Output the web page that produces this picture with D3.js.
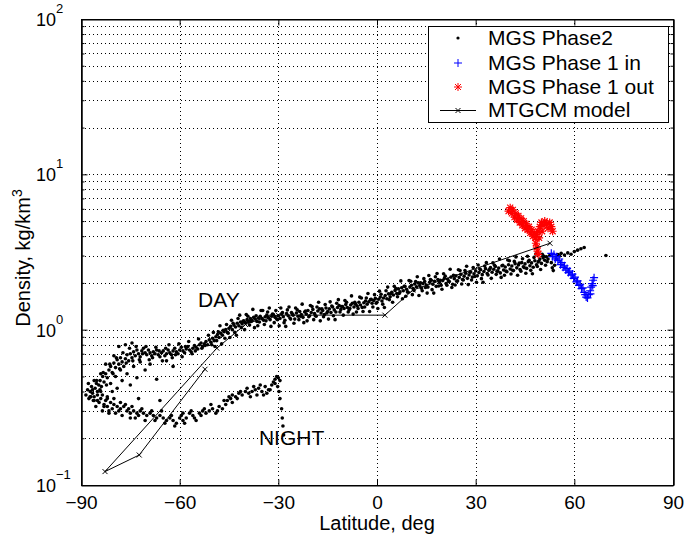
<!DOCTYPE html>
<html>
<head>
<meta charset="utf-8">
<script src="https://cdn.jsdelivr.net/npm/d3@7"></script>
<style>
  body { margin: 0; background: #fff; }
  text { font-family: "Liberation Sans", Arial, sans-serif; fill: #000; }
</style>
</head>
<body>
<svg id="chart" width="684" height="537"></svg>
<script>
/*********************** DATA ********************************/
let latTicks = [-90, -60, -30, 0, 30, 60, 90];
let latGrid = [-60, -30, 0, 30, 60];
let densityDecades = [0.1, 1, 10, 100];
let decadeExponents = ['\u22121', '0', '1', '2'];

// MGS Phase2 [latitude, density] - day side
let phase2Day = [
  [-88.5,0.38],[-88,0.41],[-87.6,0.36],[-87.2,0.40],[-86.8,0.43],[-86.5,0.39],[-86,0.37],[-85.7,0.42],
  [-85.3,0.45],[-85,0.40],[-84.6,0.44],[-84.2,0.47],[-83.8,0.43],[-83.4,0.50],[-83,0.46],[-82.5,0.52],
  [-82,0.49],[-81.5,0.55],[-81,0.58],[-80.5,0.53],[-80,0.61],[-79.5,0.57],[-79,0.64],[-78.5,0.60],
  [-78,0.66],[-77.5,0.62],[-77,0.58],[-76.5,0.65],[-76,0.69],[-75.5,0.63],[-75,0.70],[-74.5,0.66],
  [-74,0.72],[-73.5,0.68],[-73,0.74],[-72.5,0.70],[-72,0.67],[-71.5,0.73],[-71,0.76],[-70.5,0.71],
  [-70,0.69],[-69.5,0.74],[-69,0.71],[-68.5,0.68],[-68,0.72],[-67.5,0.70],[-67,0.74],[-66.5,0.69],
  [-66,0.67],[-65.5,0.71],[-65,0.73],[-64.5,0.68],[-64,0.70],[-63.5,0.74],[-63,0.71],[-62.5,0.69],
  [-62,0.73],[-61.5,0.76],[-61,0.72],[-60.5,0.70],[-60,0.74],[-59.5,0.77],[-59,0.73],[-58.5,0.71],
  [-58,0.75],[-57.5,0.78],[-57,0.74],[-56.5,0.72],[-56,0.76],[-55.5,0.79],[-55,0.77],[-54.5,0.75],
  [-54,0.80],[-53.5,0.82],[-53,0.78],[-52.5,0.81],[-52,0.84],[-51.5,0.80],[-51,0.86],[-50.5,0.83],
  [-50,0.88],[-49.5,0.85],[-49,0.90],[-48.5,0.93],[-48,0.89],[-47.5,0.95],[-47,0.92],[-46.5,0.97],
  [-46,1.00],[-45.5,0.96],[-45,1.02],[-44.5,1.05],[-44,1.00],[-43.5,1.07],[-43,1.04],[-42.5,1.10],
  [-42,1.06],[-41.5,1.12],[-41,1.09],[-40.5,1.14],[-40,1.11],[-39.5,1.16],[-39,1.13],[-38.5,1.18],
  [-38,1.15],[-37.5,1.20],[-37,1.17],[-36.5,1.13],[-36,1.19],[-35.5,1.22],[-35,1.18],[-34.5,1.15],
  [-34,1.21],[-33.5,1.24],[-33,1.19],[-32.5,1.16],[-32,1.22],[-31.5,1.25],[-31,1.20],[-30.5,1.17],
  [-30,1.23],[-29.5,1.18],[-29,1.26],[-28.5,1.21],[-28,1.15],[-27.5,1.27],[-27,1.23],[-26.5,1.19],
  [-26,1.29],[-25.5,1.24],[-25,1.17],[-24.5,1.28],[-24,1.22],[-23.5,1.31],[-23,1.25],[-22.5,1.20],
  [-22,1.30],[-21.5,1.26],[-21,1.33],[-20.5,1.23],[-20,1.29],[-19.5,1.35],[-19,1.27],[-18.5,1.22],
  [-18,1.32],[-17.5,1.36],[-17,1.28],[-16.5,1.33],[-16,1.25],[-15.5,1.38],[-15,1.31],[-14.5,1.36],
  [-14,1.29],[-13.5,1.40],[-13,1.34],[-12.5,1.30],[-12,1.39],[-11.5,1.43],[-11,1.35],[-10.5,1.41],
  [-10,1.37],[-9.5,1.45],[-9,1.39],[-8.5,1.34],[-8,1.44],[-7.5,1.48],[-7,1.40],[-6.5,1.46],
  [-6,1.42],[-5.5,1.50],[-5,1.44],[-4.5,1.39],[-4,1.49],[-3.5,1.53],[-3,1.46],[-2.5,1.51],
  [-2,1.56],[-1.5,1.48],[-1,1.54],[-0.5,1.59],[0,1.50],[0.5,1.57],[1,1.62],[1.5,1.53],
  [2,1.60],[2.5,1.66],[3,1.58],[3.5,1.70],[4,1.63],[4.5,1.74],[5,1.67],[5.5,1.79],
  [6,1.71],[6.5,1.83],[7,1.75],[7.5,1.86],[8,1.78],[8.5,1.90],[9,1.82],[9.5,1.74],
  [10,1.88],[10.5,1.93],[11,1.84],[11.5,1.97],[12,1.89],[12.5,2.00],[13,1.92],[13.5,1.85],
  [14,1.98],[14.5,2.04],[15,1.94],[15.5,1.88],[16,2.02],[16.5,2.08],[17,1.96],[17.5,2.05],
  [18,1.90],[18.5,2.10],[19,2.01],[19.5,1.93],[20,2.07],[20.5,2.14],[21,1.98],[21.5,2.11],
  [22,2.04],[22.5,2.18],[23,1.96],[23.5,2.13],[24,2.22],[24.5,2.06],[25,2.17],[25.5,2.27],
  [26,2.10],[26.5,2.21],[27,2.31],[27.5,2.14],[28,2.25],[28.5,2.35],[29,2.18],[29.5,2.29],
  [30,2.39],[30.5,2.22],[31,2.33],[31.5,2.43],[32,2.26],[32.5,2.37],[33,2.47],[33.5,2.30],
  [34,2.41],[34.5,2.51],[35,2.34],[35.5,2.45],[36,2.55],[36.5,2.38],[37,2.49],[37.5,2.32],
  [38,2.58],[38.5,2.42],[39,2.53],[39.5,2.36],[40,2.62],[40.5,2.46],[41,2.57],[41.5,2.40],
  [42,2.66],[42.5,2.50],[43,2.61],[43.5,2.44],[44,2.70],[44.5,2.54],[45,2.65],[45.5,2.48],
  [46,2.74],[46.5,2.58],[47,2.69],[47.5,2.52],[48,2.78],[48.5,2.62],[49,2.73],[49.5,2.85],
  [50,2.67],[50.5,2.90],[51,2.80],[51.5,2.95],[52,2.85],[52.5,3.00],[53,2.70],[53.3,2.50],
  [53.6,2.40],[54,2.60],[54.5,2.85],[55,3.05],[55.5,2.98],[56,3.10],[57,3.02],[58,3.12],
  [59,3.06],[60,3.18],[61,3.25],[62,3.32],[63,3.38],[69.6,3.00]
];

// MGS Phase2 - day side, scatter around the band
let phase2DayEdge = [
  [-87.75,0.45],[-87.25,0.37],[-86.25,0.35],[-85.25,0.47],[-84.25,0.41],[-83.25,0.53],[-82.25,0.44],
  [-81.25,0.60],[-80.25,0.52],[-79.25,0.66],[-78.25,0.56],[-77.25,0.71],[-76.25,0.61],[-75.25,0.76],
  [-74.25,0.63],[-73.25,0.78],[-72.25,0.64],[-71.25,0.70],[-70.25,0.78],[-69.25,0.64],[-68.25,0.66],
  [-67.25,0.77],[-66.25,0.73],[-65.25,0.63],[-64.25,0.76],[-63.25,0.80],[-62.25,0.66],[-61.25,0.69],
  [-60.25,0.81],[-59.25,0.67],[-58.25,0.78],[-57.25,0.84],[-56.25,0.70],[-55.25,0.73],[-54.25,0.87],
  [-53.25,0.76],[-52.25,0.79],[-51.25,0.92],[-50.25,0.80],
  [-49.75,0.96],[-49.25,0.78],[-48.75,0.85],[-48.25,0.97],[-47.75,1.06],[-47.25,0.81],[-46.75,0.99],
  [-46.25,0.88],[-45.75,1.08],[-45.25,0.95],[-44.75,0.89],[-44.25,1.15],[-43.75,1.10],[-43.25,0.96],
  [-42.75,0.92],[-42.25,1.18],[-41.75,1.24],[-41.25,1.03],[-40.75,1.13],[-40.25,1.00],[-39.75,1.25],
  [-39.25,1.22],[-38.75,1.07],[-38.25,1.13],[-37.75,1.35],[-37.25,1.03],[-36.75,1.23],[-36.25,1.06],
  [-35.75,1.12],[-35.25,1.33],[-34.75,1.33],[-34.25,1.08],[-33.75,1.14],[-33.25,1.30],[-32.75,1.38],
  [-32.25,1.05],[-31.75,1.26],[-31.25,1.11],[-30.75,1.33],[-30.25,1.16],[-29.75,1.06],[-29.25,1.38],
  [-28.75,1.29],[-28.25,1.11],[-27.75,1.05],[-27.25,1.34],[-26.75,1.40],[-26.25,1.17],[-25.75,1.26],
  [-25.25,1.10],[-24.75,1.38],[-24.25,1.34],[-23.75,1.16],[-23.25,1.22],[-22.75,1.46],[-22.25,1.11],
  [-21.75,1.32],[-21.25,1.14],[-20.75,1.21],[-20.25,1.43],[-19.75,1.41],[-19.25,1.16],[-18.75,1.23],
  [-18.25,1.40],[-17.75,1.50],[-17.25,1.14],[-16.75,1.36],[-16.25,1.21],[-15.75,1.45],[-15.25,1.28],
  [-14.75,1.17],[-14.25,1.51],[-13.75,1.42],[-13.25,1.23],[-12.75,1.16],[-12.25,1.48],[-11.75,1.56],
  [-11.25,1.30],[-10.75,1.41],[-10.25,1.24],[-9.75,1.54],[-9.25,1.50],[-8.75,1.30],[-8.25,1.37],
  [-7.75,1.65],[-7.25,1.26],[-6.75,1.50],[-6.25,1.30],[-5.75,1.37],[-5.25,1.62],[-4.75,1.60],
  [-4.25,1.31],[-3.75,1.40],[-3.25,1.60],[-2.75,1.71],[-2.25,1.31],[-1.75,1.57],[-1.25,1.40],
  [-0.75,1.68],[-0.25,1.48],[0.25,1.37],[0.75,1.77],[1.25,1.69],[1.75,1.46],[2.25,1.39],[2.75,1.78],
  [3.25,1.88],[3.75,1.56],[4.25,1.71],[4.75,1.50],[5.25,1.90],[5.75,1.84],[6.25,1.63],[6.75,1.71],
  [7.25,2.06],[7.75,1.58],[8.25,1.90],[8.75,1.64],[9.25,1.75],[9.75,2.07],[10.25,2.05],[10.75,1.68],
  [11.25,1.79],[11.75,2.04],[12.25,2.19],[12.75,1.66],[13.25,2.00],[13.75,1.78],[14.25,2.13],
  [14.75,1.87],[15.25,1.72],[15.75,2.23],[16.25,2.10],[16.75,1.81],[17.25,1.72],[17.75,2.19],
  [18.25,2.30],[18.75,1.91],[19.25,2.08],[19.75,1.82],[20.25,2.29],[20.75,2.21],[21.25,1.93],
  [21.75,2.04],[22.25,2.45],[22.75,1.87],[23.25,2.24],[23.75,1.94],[24.25,2.05],[24.75,2.43],
  [25.25,2.40],[25.75,1.97],[26.25,2.09],[26.75,2.40],[27.25,2.56],[27.75,1.95],[28.25,2.34],
  [28.75,2.09],[29.25,2.51],[29.75,2.20],[30.25,2.02],[30.75,2.61],[31.25,2.46],[31.75,2.13],
  [32.25,2.02],[32.75,2.57],[33.25,2.70],[33.75,2.25],[34.25,2.45],[34.75,2.14],[35.25,2.69],
  [35.75,2.60],[36.25,2.27],[36.75,2.38],[37.25,2.85],[37.75,2.17],[38.25,2.60],[38.75,2.24],
  [39.25,2.38],[39.75,2.81],[40.25,2.78],[40.75,2.28],[41.25,2.41],[41.75,2.75],[42.25,2.94],
  [42.75,2.24],[43.25,2.68],[43.75,2.38],[44.25,2.86],[44.75,2.51],[45.25,2.31],[45.75,2.97],
  [46.25,2.80],[46.75,2.41],[47.25,2.29],[47.75,2.92],[48.25,3.07],[48.75,2.55],[49.25,2.77],
  [49.75,2.44],[50.25,3.06],[50.75,2.97],[51.25,2.60],[51.75,2.74]
];

// MGS Phase2 - scattered points between the branches near the south pole
let phase2Cloud = [
  [-86,0.47],[-85,0.35],[-84,0.52],[-83.5,0.38],[-82.5,0.60],[-82,0.36],[-81,0.45],[-80.5,0.40],
  [-80,0.68],[-79.5,0.50],[-79,0.42],[-78,0.55],[-77.5,0.47],[-76,0.52],[-75,0.44],[-74,0.58],
  [-73,0.49],[-72,0.62],[-70.5,0.55],[-69,0.60],[-67,0.48],[-66,0.35],[-64,0.63],[-62,0.58],
  [-83,0.32],[-81.5,0.30],[-78.5,0.78],[-76.5,0.80],[-74.5,0.82],[-72.5,0.36]
];

// MGS Phase2 - night side
let phase2Night = [
  [-87,0.37],[-86,0.35],[-85,0.38],[-84.5,0.34],[-84,0.36],[-83,0.33],[-82.5,0.35],[-82,0.32],
  [-81,0.34],[-80.5,0.31],[-80,0.33],[-79,0.32],[-78.5,0.30],[-78,0.31],[-77,0.32],[-76,0.30],
  [-75.5,0.31],[-75,0.29],[-74,0.30],[-73,0.29],[-72.5,0.28],[-72,0.30],[-71,0.29],[-70,0.28],
  [-69,0.29],[-68,0.28],[-67,0.27],[-66,0.28],[-65,0.27],[-64,0.26],[-63,0.27],[-62,0.26],
  [-61,0.25],[-60,0.27],[-59.5,0.28],[-59,0.26],[-58,0.27],[-57,0.29],[-56,0.28],[-55,0.26],
  [-54,0.29],[-53,0.30],[-52,0.29],[-51,0.30],[-50,0.31],[-49,0.29],[-48,0.32],[-47,0.31],
  [-46,0.33],[-45.5,0.35],[-45,0.37],[-44.5,0.36],[-44,0.38],[-43,0.37],[-42,0.39],[-41,0.38],
  [-40,0.40],[-39,0.39],[-38,0.40],[-37,0.41],[-36.5,0.38],[-36,0.42],[-35,0.40],[-34,0.43],
  [-33.5,0.39],[-33,0.41],[-32,0.44],[-31.5,0.46],[-31,0.48],[-30.5,0.50],[-30,0.49],[-29.5,0.47],
  [-30.2,0.43],[-29.8,0.40],[-29.5,0.36],[-29,0.31],[-28.8,0.27],[-28.6,0.24],[-28.4,0.21],
  [-86.5,0.41],[-85.5,0.32],[-84,0.40],[-83.5,0.30],[-82,0.37],[-81.5,0.29],[-80,0.36],[-79.5,0.29],
  [-78,0.34],[-77.5,0.28],[-76.5,0.33],[-75,0.27],[-74.5,0.32],[-73.5,0.27],[-71.5,0.31],[-70.5,0.26],
  [-68.5,0.30],[-67.5,0.26],[-65.5,0.30],[-64.5,0.25],[-62.5,0.28],[-61.5,0.24],[-59,0.29],[-58.5,0.25],
  [-56.5,0.30],[-55.5,0.27],[-53.5,0.28],[-52.5,0.31],[-50.5,0.33],[-48.5,0.30],[-46.5,0.35],[-44,0.34],
  [-42.5,0.36],[-41.5,0.40],[-39.5,0.42],[-38.5,0.37],[-37.5,0.43],[-35.5,0.44],[-34.5,0.38],[-32.5,0.41],
  [-31,0.45]
];

// MGS Phase 1 in (blue +)
let phase1In = [
  [53.0,3.10],[53.4,2.95],[53.8,3.05],[54.2,2.85],[54.6,2.95],[55.0,2.78],[55.4,2.85],[55.8,2.62],
  [56.2,2.70],[56.6,2.52],[57.0,2.58],[57.4,2.42],[57.8,2.48],[58.2,2.33],[58.6,2.38],[59.0,2.24],
  [59.4,2.28],[59.8,2.14],[60.2,2.18],[60.6,2.03],[61.0,2.06],[61.4,1.93],[61.8,1.96],[62.2,1.84],
  [62.6,1.86],[63.0,1.74],[63.3,1.68],[63.6,1.62],[64.0,1.60],[64.4,1.68],[64.8,1.78],[65.1,1.88],
  [65.4,1.98],[65.7,2.08],[66.0,2.16],[65.6,1.92],[64.9,1.70]
];

// MGS Phase 1 out (red *)
let phase1Out = [
  [40.0,5.8],[40.5,6.1],[41.0,5.6],[41.3,5.9],[41.8,5.3],[42.2,5.6],[42.6,5.1],[43.0,5.4],
  [43.4,4.9],[43.8,5.2],[44.2,4.7],[44.6,5.0],[45.0,4.5],[45.4,4.8],[45.8,4.4],[46.2,4.6],
  [46.6,4.2],[47.0,4.4],[47.4,4.0],[47.8,4.2],[48.1,3.9],[48.3,3.6],[48.6,3.4],[48.8,3.2],
  [49.0,3.05],[48.5,4.1],[49.0,4.3],[49.5,4.6],[50.0,4.9],[50.5,4.7],[51.0,5.0],[51.5,4.8],
  [52.0,4.5],[52.5,4.9],[53.0,4.6],[53.4,4.3],[50.2,4.3],[49.3,3.9]
];

// MTGCM model
let modelLine = [
  [-52.3,0.556],[-72.3,0.156],[-82.7,0.122],[-48.7,0.76],[-40,1.08],[-33,1.22],
  [-30,1.24],[2.4,1.24],[10.9,1.80],[52.6,3.6]
];

let legendLabels = ['MGS Phase2', 'MGS Phase 1 in', 'MGS Phase 1 out', 'MTGCM model'];

/*********************** CHART ********************************/
let svg = d3.select('#chart');
let plotLeft = 81, plotRight = 673, plotTop = 19, plotBottom = 485;

let x = d3.scaleLinear().domain([-90, 90]).range([plotLeft, plotRight]);
let y = d3.scaleLog().domain([0.1, 100]).range([plotBottom, plotTop]);

let minorVals = y.ticks().filter(v => densityDecades.indexOf(v) < 0);

// grid
let grid = svg.append('g')
  .attr('stroke', '#000')
  .attr('stroke-width', 1)
  .attr('stroke-dasharray', '1,3');
y.ticks().filter(v => v > 0.1 && v < 100).forEach((v) => {
  let yy = Math.round(y(v)) + 0.5;
  grid.append('line').attr('x1', plotLeft).attr('x2', plotRight).attr('y1', yy).attr('y2', yy);
});
latGrid.forEach((v) => {
  let xx = Math.round(x(v)) + 0.5;
  grid.append('line').attr('x1', xx).attr('x2', xx).attr('y1', plotTop).attr('y2', plotBottom);
});

// axes (ticks inside)
let xAxis = svg.append('g')
  .attr('transform', 'translate(0,' + (plotBottom + 0.5) + ')')
  .call(d3.axisBottom(x).tickValues(latTicks).tickSize(-6).tickPadding(10)
    .tickFormat(d => d < 0 ? '\u2212' + Math.abs(d) : d));
svg.append('g')
  .attr('transform', 'translate(0,' + (plotTop + 0.5) + ')')
  .call(d3.axisTop(x).tickValues(latTicks).tickSize(-6).tickFormat(''));

svg.append('g')
  .attr('transform', 'translate(' + (plotLeft + 0.5) + ',0)')
  .call(d3.axisLeft(y).tickValues(densityDecades).tickSize(-6).tickFormat(''));
svg.append('g')
  .attr('transform', 'translate(' + (plotLeft + 0.5) + ',0)')
  .call(d3.axisLeft(y).tickValues(minorVals).tickSize(-3).tickFormat(''));
svg.append('g')
  .attr('transform', 'translate(' + (plotRight + 0.5) + ',0)')
  .call(d3.axisRight(y).tickValues(densityDecades).tickSize(-6).tickFormat(''));
svg.append('g')
  .attr('transform', 'translate(' + (plotRight + 0.5) + ',0)')
  .call(d3.axisRight(y).tickValues(minorVals).tickSize(-3).tickFormat(''));

svg.selectAll('.domain').attr('stroke', '#000');
svg.selectAll('.tick line').attr('stroke', '#000');
xAxis.selectAll('text')
  .attr('font-size', '19px')
  .attr('font-family', '"Liberation Sans", Arial, sans-serif')
  .attr('fill', '#000');

// y tick labels 10^n
densityDecades.forEach((v, i) => {
  svg.append('text')
    .attr('x', 56).attr('y', y(v) + 7)
    .attr('text-anchor', 'end')
    .attr('font-size', '18px')
    .text('10');
  svg.append('text')
    .attr('x', 56).attr('y', y(v) - 6)
    .attr('font-size', '13px')
    .text(decadeExponents[i]);
});

// box
svg.append('rect')
  .attr('x', plotLeft + 0.5).attr('y', plotTop + 0.5)
  .attr('width', plotRight - plotLeft).attr('height', plotBottom - plotTop)
  .attr('fill', 'none').attr('stroke', '#000');

// axis labels
svg.append('text')
  .attr('x', (plotLeft + plotRight) / 2).attr('y', 530)
  .attr('text-anchor', 'middle')
  .attr('font-size', '20px')
  .text('Latitude, deg');

let yLabel = svg.append('text')
  .attr('transform', 'translate(30,' + 258 + ') rotate(-90)')
  .attr('text-anchor', 'middle')
  .attr('font-size', '20px');
yLabel.append('tspan').text('Density, kg/km');
yLabel.append('tspan').attr('dy', -8).attr('font-size', '14px').text('3');

/*********************** MARKS ********************************/
let plusPath = 'M-4,0H4M0,-4V4';
let crossPath = 'M-2.5,-2.5L2.5,2.5M-2.5,2.5L2.5,-2.5';
let starPath = 'M-4,0H4M0,-4V4M-3,-3L3,3M-3,3L3,-3';

let dots = svg.append('g').attr('fill', '#000');
phase2Day.concat(phase2DayEdge, phase2Cloud, phase2Night).forEach((d) => {
  dots.append('circle').attr('cx', x(d[0])).attr('cy', y(d[1])).attr('r', 1.8);
});

let blue = svg.append('g').attr('stroke', '#0000ff').attr('fill', 'none').attr('stroke-width', 1.2);
phase1In.forEach((d) => {
  blue.append('path')
    .attr('transform', 'translate(' + x(d[0]) + ',' + y(d[1]) + ')')
    .attr('d', plusPath);
});

let red = svg.append('g').attr('stroke', '#ff0000').attr('fill', 'none').attr('stroke-width', 1.2);
phase1Out.forEach((d) => {
  red.append('path')
    .attr('transform', 'translate(' + x(d[0]) + ',' + y(d[1]) + ')')
    .attr('d', starPath);
});

let line = d3.line().x(d => x(d[0])).y(d => y(d[1]));
svg.append('path')
  .datum(modelLine)
  .attr('d', line)
  .attr('fill', 'none')
  .attr('stroke', '#000')
  .attr('stroke-width', 1);
let markers = svg.append('g').attr('stroke', '#000').attr('fill', 'none');
modelLine.forEach((d) => {
  markers.append('path')
    .attr('transform', 'translate(' + x(d[0]) + ',' + y(d[1]) + ')')
    .attr('d', crossPath);
});

// annotations
svg.append('text').attr('x', x(-54.4)).attr('y', y(1.40)).attr('font-size', '21px').text('DAY');
svg.append('text').attr('x', x(-35.9)).attr('y', y(0.181)).attr('font-size', '21px').text('NIGHT');

/*********************** LEGEND ********************************/
let legend = svg.append('g');
legend.append('rect')
  .attr('x', 428.5).attr('y', 26.5).attr('width', 240).attr('height', 96)
  .attr('fill', '#fff').attr('stroke', '#000');
let rowY = [38, 63, 87, 110];
legendLabels.forEach((label, i) => {
  legend.append('text')
    .attr('x', 488).attr('y', rowY[i] + 7)
    .attr('font-size', '21px')
    .text(label);
});
legend.append('circle').attr('cx', 458).attr('cy', rowY[0]).attr('r', 1.6).attr('fill', '#000');
legend.append('path').attr('transform', 'translate(458,' + rowY[1] + ')')
  .attr('d', plusPath).attr('stroke', '#0000ff').attr('fill', 'none');
legend.append('path').attr('transform', 'translate(458,' + rowY[2] + ')')
  .attr('d', starPath).attr('stroke', '#ff0000').attr('fill', 'none');
legend.append('line').attr('x1', 440).attr('x2', 476)
  .attr('y1', rowY[3] + 0.5).attr('y2', rowY[3] + 0.5).attr('stroke', '#000');
legend.append('path').attr('transform', 'translate(458,' + (rowY[3] + 0.5) + ')')
  .attr('d', crossPath).attr('stroke', '#000').attr('fill', 'none');
</script>
</body>
</html>
